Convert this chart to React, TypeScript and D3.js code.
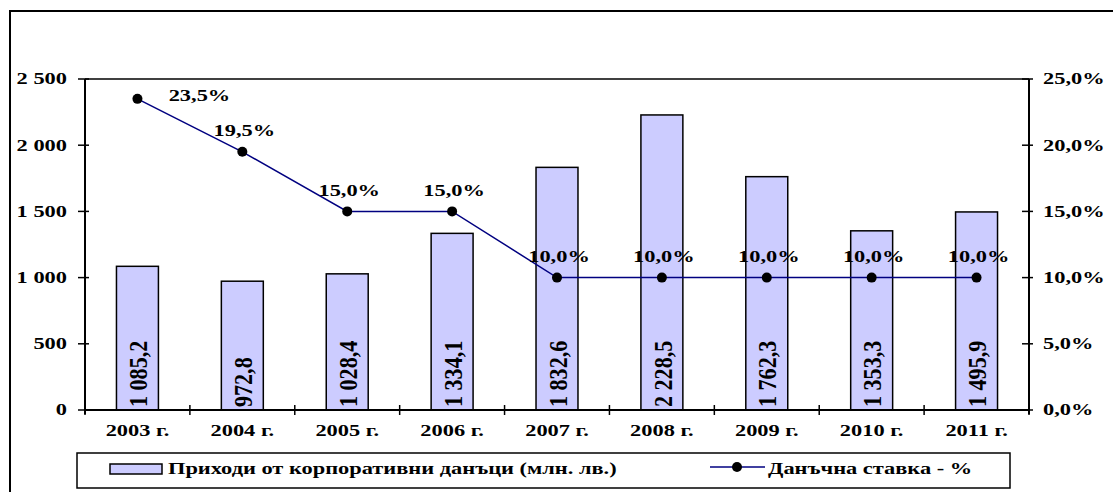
import React from "react";
import * as d3 from "d3";

const years = ["2003 г.", "2004 г.", "2005 г.", "2006 г.", "2007 г.", "2008 г.", "2009 г.", "2010 г.", "2011 г."];
const revenue = [1085.2, 972.8, 1028.4, 1334.1, 1832.6, 2228.5, 1762.3, 1353.3, 1495.9];
const taxRate = [23.5, 19.5, 15.0, 15.0, 10.0, 10.0, 10.0, 10.0, 10.0];
const leftTicks = [0, 500, 1000, 1500, 2000, 2500];
const rightTicks = [0, 5, 10, 15, 20, 25];
const barSeriesName = "Приходи от корпоративни данъци (млн. лв.)";
const lineSeriesName = "Данъчна ставка - %";

const W = 1113;
const H = 492;
const plot = { left: 85, right: 1029, top: 79, bottom: 410 };
const FONT = "'Liberation Serif', 'Times New Roman', serif";
const BAR_FILL = "#CCCCFF";
const LINE_COLOR = "#000080";
const TXT = 16;
const SX = 1.4;

const fmtThousands = (v: number) => d3.format(",")(v).replace(/,/g, " ");
const fmtRevenue = (v: number) => {
  const [i, f] = v.toFixed(1).split(".");
  return fmtThousands(+i) + "," + f;
};
const fmtPct = (v: number) => v.toFixed(1).replace(".", ",") + "%";

// Wide bold text: glyphs stretched horizontally around the anchor point
function WideText(props: {
  x: number;
  y: number;
  anchor?: "start" | "middle" | "end";
  children: React.ReactNode;
}) {
  const { x, y, anchor = "start", children } = props;
  return (
    <text
      transform={`translate(${x},${y}) scale(${SX},1)`}
      textAnchor={anchor}
      dominantBaseline="central"
      fontFamily={FONT}
      fontWeight="bold"
      fontSize={TXT}
      fill="#000"
    >
      {children}
    </text>
  );
}

export default function App() {
  const x = d3.scaleBand<string>().domain(years).range([plot.left, plot.right]).paddingInner(0).paddingOuter(0);
  const y = d3.scaleLinear().domain([0, 2500]).range([plot.bottom, plot.top]);
  const yPct = d3.scaleLinear().domain([0, 25]).range([plot.bottom, plot.top]);
  const barW = x.bandwidth() * 0.4;
  const cx = (i: number) => (x(years[i]) as number) + x.bandwidth() / 2;

  const linePath = d3
    .line<number>()
    .x((_, i) => cx(i))
    .y((d) => yPct(d))(taxRate) as string;

  const boundaries = years.map((c) => x(c) as number).concat([plot.right]);

  return (
    <svg width={W} height={H} style={{ position: "absolute", left: 0, top: 0, background: "#fff" }}>
      {/* outer frame */}
      <rect x={10} y={11} width={W + 20} height={H + 20} fill="#fff" stroke="#000" strokeWidth={2} />

      {/* plot frame top edge */}
      <line x1={plot.left} x2={plot.right} y1={plot.top} y2={plot.top} stroke="#000" strokeWidth={1.5} />

      {/* bars */}
      {revenue.map((v, i) => (
        <rect
          key={"b" + i}
          x={cx(i) - barW / 2}
          y={y(v)}
          width={barW}
          height={y(0) - y(v)}
          fill={BAR_FILL}
          stroke="#000"
          strokeWidth={1.5}
        />
      ))}

      {/* bar value labels, vertical */}
      {revenue.map((v, i) => (
        <text
          key={"bl" + i}
          transform={`translate(${cx(i) + 1},${y(0) - 3}) rotate(-90) scale(0.85,1)`}
          textAnchor="start"
          dominantBaseline="central"
          fontFamily={FONT}
          fontWeight="bold"
          fontSize={26}
          fill="#000"
        >
          {fmtRevenue(v)}
        </text>
      ))}

      {/* axes */}
      <line x1={plot.left} x2={plot.left} y1={plot.top} y2={plot.bottom + 4} stroke="#000" strokeWidth={2} />
      <line x1={plot.right} x2={plot.right} y1={plot.top} y2={plot.bottom + 4} stroke="#000" strokeWidth={2} />
      <line x1={plot.left} x2={plot.right} y1={plot.bottom} y2={plot.bottom} stroke="#000" strokeWidth={2} />

      {leftTicks.map((t) => (
        <g key={"lt" + t}>
          <line x1={plot.left - 7} x2={plot.left + 4} y1={y(t)} y2={y(t)} stroke="#000" strokeWidth={1.5} />
          <WideText x={67} y={y(t)} anchor="end">
            {fmtThousands(t)}
          </WideText>
        </g>
      ))}
      {rightTicks.map((t) => (
        <g key={"rt" + t}>
          <line x1={plot.right - 7} x2={plot.right + 4} y1={yPct(t)} y2={yPct(t)} stroke="#000" strokeWidth={1.5} />
          <WideText x={1043} y={yPct(t)} anchor="start">
            {fmtPct(t)}
          </WideText>
        </g>
      ))}
      {boundaries.map((b, i) => (
        <line key={"xt" + i} x1={b} x2={b} y1={plot.bottom - 5} y2={plot.bottom + 5} stroke="#000" strokeWidth={1.5} />
      ))}
      {years.map((c, i) => (
        <WideText key={"xl" + i} x={cx(i)} y={431} anchor="middle">
          {c}
        </WideText>
      ))}

      {/* tax rate line */}
      <path d={linePath} fill="none" stroke={LINE_COLOR} strokeWidth={1.5} />
      {taxRate.map((v, i) => (
        <circle key={"p" + i} cx={cx(i)} cy={yPct(v)} r={5} fill="#000" />
      ))}
      {taxRate.map((v, i) => (
        <WideText
          key={"pl" + i}
          x={i === 0 ? cx(i) + 62 : cx(i) + 2}
          y={i === 0 ? yPct(v) - 3 : yPct(v) - 21}
          anchor="middle"
        >
          {fmtPct(v)}
        </WideText>
      ))}

      {/* legend */}
      <rect x={77} y={453} width={933} height={35} fill="#fff" stroke="#000" strokeWidth={1.5} />
      <rect x={110} y={464} width={52} height={10} fill={BAR_FILL} stroke="#000" strokeWidth={1.5} />
      <WideText x={168} y={469} anchor="start">
        {barSeriesName}
      </WideText>
      <line x1={710} x2={765} y1={467} y2={467} stroke={LINE_COLOR} strokeWidth={1.5} />
      <circle cx={737} cy={467} r={5} fill="#000" />
      <WideText x={768} y={469} anchor="start">
        {lineSeriesName}
      </WideText>
    </svg>
  );
}
